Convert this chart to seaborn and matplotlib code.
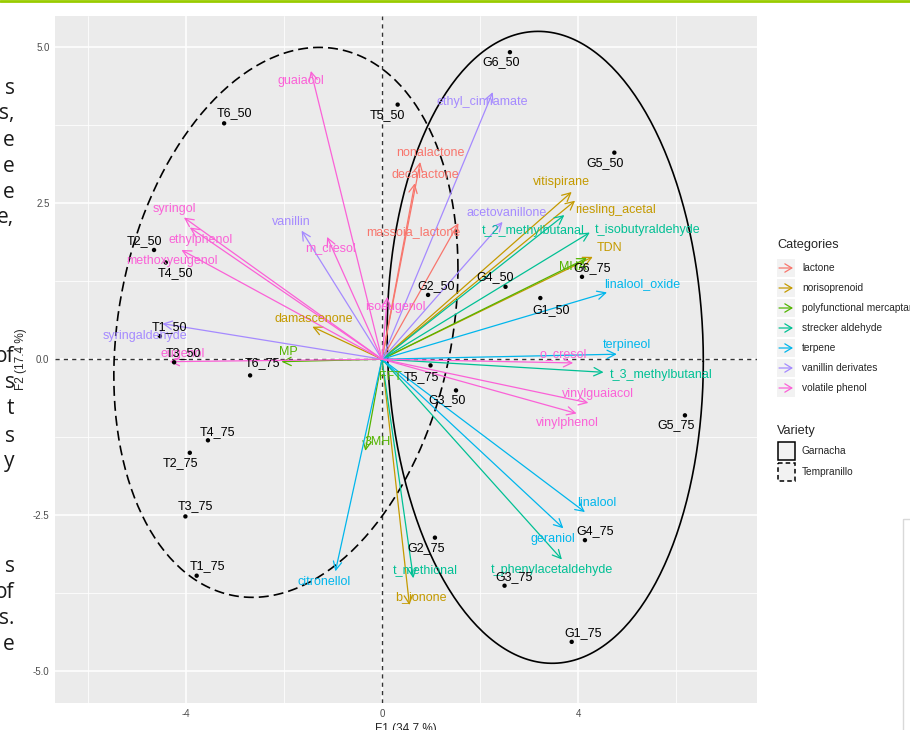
import numpy as np
import matplotlib
matplotlib.use('Agg')
import matplotlib.pyplot as plt
import pandas as pd
import seaborn as sns
from matplotlib.patches import Rectangle

# sample scores on the first two factors
samples = ['G1_50', 'G2_50', 'G3_50', 'G4_50', 'G5_50', 'G6_50',
           'G1_75', 'G2_75', 'G3_75', 'G4_75', 'G5_75', 'G6_75',
           'T1_50', 'T2_50', 'T3_50', 'T4_50', 'T5_50', 'T6_50',
           'T1_75', 'T2_75', 'T3_75', 'T4_75', 'T5_75', 'T6_75']
sample_f1 = [3.23, 0.94, 1.51, 2.52, 4.74, 2.61,
             3.87, 1.08, 2.50, 4.14, 6.18, 4.08,
             -4.53, -4.65, -4.24, -4.41, 0.32, -3.22,
             -3.78, -3.92, -4.01, -3.55, 0.99, -2.69]
sample_f2 = [0.98, 1.03, -0.50, 1.16, 3.31, 4.92,
             -4.53, -2.86, -3.63, -2.90, -0.90, 1.32,
             0.37, 1.75, -0.05, 1.55, 4.08, 3.78,
             -3.47, -1.50, -2.52, -1.30, -0.10, -0.26]
sample_variety = ['Garnacha'] * 12 + ['Tempranillo'] * 12

# compound loadings (arrow tips)
compounds = ['nonalactone', 'decalactone', 'massoia_lactone',
             'vitispirane', 'riesling_acetal', 'TDN', 'damascenone', 'b_ionone',
             'MHA', 'MP', 'FFT', '3MH',
             't_2_methylbutanal', 't_isobutyraldehyde', 't_3_methylbutanal',
             't_phenylacetaldehyde', 't_methional',
             'linalool_oxide', 'terpineol', 'linalool', 'geraniol', 'citronellol',
             'ethyl_cinnamate', 'acetovanillone', 'vanillin', 'syringaldehyde',
             'guaiacol', 'syringol', 'ethylphenol', 'methoxyeugenol', 'm_cresol',
             'isoeugenol', 'eugenol', 'o_cresol', 'vinylguaiacol', 'vinylphenol']
compound_cat = ['lactone'] * 3 + ['norisoprenoid'] * 5 + \
               ['polyfunctional mercaptans'] * 4 + ['strecker aldehyde'] * 5 + \
               ['terpene'] * 5 + ['vanillin derivates'] * 4 + ['volatile phenol'] * 10
compound_f1 = [0.78, 0.67, 1.56,
               3.87, 3.94, 4.30, -1.42, 0.56,
               4.18, -2.05, 0.03, -0.34,
               3.72, 4.24, 4.52, 3.67, 0.64,
               4.59, 4.79, 4.14, 3.70, -0.95,
               2.26, 2.46, -1.64, -4.48,
               -1.45, -4.04, -3.92, -4.09, -1.12,
               0.11, -4.33, 3.90, 4.21, 3.97]
compound_f2 = [3.16, 2.82, 2.18,
               2.68, 2.54, 1.64, 0.52, -3.94,
               1.62, -0.04, -0.07, -1.47,
               2.31, 2.03, -0.21, -3.21, -3.51,
               1.07, 0.08, -2.45, -2.71, -3.40,
               4.28, 2.20, 2.06, 0.57,
               4.62, 2.27, 2.11, 1.75, 1.96,
               1.00, -0.04, -0.06, -0.70, -0.87]

categories = ['lactone', 'norisoprenoid', 'polyfunctional mercaptans',
              'strecker aldehyde', 'terpene', 'vanillin derivates', 'volatile phenol']
varieties = ['Garnacha', 'Tempranillo']

# group ellipses: centre and shape matrix
ellipse_center = {'Garnacha': (3.33, 0.19), 'Tempranillo': (-1.96, 0.59)}
ellipse_shape = {'Garnacha': [[10.40, -0.72], [-0.72, 25.64]],
                 'Tempranillo': [[12.32, 3.01], [3.01, 19.42]]}

# label nudges in pixels (layout only)
compound_label_offset = [(10, 9), (10, 8), (-45, -9),
                         (-10, 10), (40, -9), (17, 9), (1, 8), (11, 8),
                         (-14, -9), (7, 10), (7, -13), (12, 9),
                         (-31, -16), (58, 3), (58, -3), (-10, -11), (12, 8),
                         (35, 8), (10, 9), (12, 9), (-10, -11), (-11, -11),
                         (-11, -10), (4, 9), (-10, 9), (-17, -12),
                         (-10, -10), (-10, 9), (11, -12), (-10, -11), (3, -11),
                         (8, -10), (13, 8), (-10, 9), (10, 9), (-9, -10)]
sample_label_offset = [(11, -12), (8, 9), (-9, -10), (-10, 10), (-9, -10), (-9, -10),
                       (11, 9), (-9, -10), (10, 9), (10, 9), (-9, -10), (10, 9),
                       (10, 9), (-10, 9), (9, 9), (10, -11), (-10, -10), (10, 10),
                       (11, 10), (-9, -10), (10, 10), (10, 8), (-9, -12), (12, 12)]

# left margin text fragments of the page (text, y pixel)
page_text = [('s', 88), ('s,', 114), ('e', 140), ('e', 166), ('e', 192), ('e,', 218),
             ('of', 357), ('s', 383), ('t', 409), ('s', 436), ('y', 462),
             ('s', 567), ('of', 593), ('s.', 619), ('e', 645)]

cat_colors = dict(zip(categories, ['#F8766D', '#C49A00', '#53B400', '#00C094',
                                   '#00B6EB', '#A58AFF', '#FB61D7']))

sns.set_theme(style='darkgrid', rc={
    'axes.facecolor': '#EBEBEB', 'grid.color': 'white',
    'axes.unicode_minus': False,
})
plt.rcParams['font.family'] = ['Liberation Sans', 'DejaVu Sans']

scores = pd.DataFrame({'name': samples, 'F1': sample_f1, 'F2': sample_f2,
                       'variety': sample_variety})
loads = pd.DataFrame({'name': compounds, 'cat': compound_cat,
                      'F1': compound_f1, 'F2': compound_f2})

W, H = 910, 730
fig = plt.figure(figsize=(W / 100, H / 100), dpi=100)
ax = fig.add_axes([55 / W, 1 - 703 / H, (757 - 55) / W, (703 - 16) / H])
ax.set_xlim(-6.67, 7.65)
ax.set_ylim(-5.51, 5.50)

ax.set_xticks([-4, 0, 4])
ax.set_xticks([-6, -2, 2, 6], minor=True)
ax.set_yticks([-5, -2.5, 0, 2.5, 5])
ax.set_yticks([-3.75, -1.25, 1.25, 3.75], minor=True)
ax.set_yticklabels(['-5.0', '-2.5', '0.0', '2.5', '5.0'])
ax.grid(which='major', color='white', lw=1.1)
ax.grid(which='minor', color='white', lw=0.55)
ax.tick_params(which='major', length=2.5, width=0.8, color='#333333',
               labelsize=7, labelcolor='#4D4D4D', pad=1.5)
ax.tick_params(which='minor', length=0)
for sp in ax.spines.values():
    sp.set_visible(False)
ax.set_xlabel('F1 (34.7 %)', fontsize=8.5, labelpad=3)
ax.set_ylabel('F2 (17.4 %)', fontsize=8.5, labelpad=4)

ax.axhline(0, color='#333333', lw=1.0, ls=(0, (3, 3)), zorder=1)
ax.axvline(0, color='#333333', lw=1.0, ls=(0, (3, 3)), zorder=1)

# ellipses
t = np.linspace(0, 2 * np.pi, 300)
for v in varieties:
    L = np.linalg.cholesky(np.array(ellipse_shape[v]))
    pts = L @ np.vstack([np.cos(t), np.sin(t)])
    cx, cy = ellipse_center[v]
    ls = '-' if v == 'Garnacha' else (0, (6, 3))
    ax.plot(cx + pts[0], cy + pts[1], color='black', lw=1.2, ls=ls, zorder=2)

# loading arrows and labels
for (_, r), off in zip(loads.iterrows(), compound_label_offset):
    c = cat_colors[r['cat']]
    ax.annotate('', xy=(r['F1'], r['F2']), xytext=(0, 0),
                arrowprops=dict(arrowstyle='->,head_length=0.6,head_width=0.3',
                                color=c, lw=0.9, shrinkA=0, shrinkB=0,
                                mutation_scale=10), zorder=3)
for (_, r), off in zip(loads.iterrows(), compound_label_offset):
    ax.annotate(r['name'], xy=(r['F1'], r['F2']), xytext=off,
                textcoords='offset pixels', ha='center', va='center',
                color=cat_colors[r['cat']], fontsize=9, zorder=5)

sns.scatterplot(data=scores, x='F1', y='F2', color='black', s=10,
                edgecolor='none', legend=False, ax=ax, zorder=4)
ax.set_xlabel('F1 (34.7 %)', fontsize=8.5, labelpad=3)
ax.set_ylabel('F2 (17.4 %)', fontsize=8.5, labelpad=4)
for (_, r), off in zip(scores.iterrows(), sample_label_offset):
    ax.annotate(r['name'], xy=(r['F1'], r['F2']), xytext=off,
                textcoords='offset pixels', ha='center', va='center',
                color='black', fontsize=9, zorder=6)

# overlay in pixel coordinates for legend and page pieces
ov = fig.add_axes([0, 0, 1, 1])
ov.set_xlim(0, W)
ov.set_ylim(H, 0)
ov.axis('off')

ov.plot([0, W], [1, 1], color='#99CC00', lw=2)
ov.add_patch(Rectangle((903, 519), 20, 240, fill=False, ec='#D9D9D9', lw=1))
for txt, y in page_text:
    ov.text(14.5, y, txt, ha='right', va='center', fontsize=15,
            family=['Open Sans', 'DejaVu Sans'], color='#1A1A1A')

ov.text(777, 245, 'Categories', fontsize=9.2, va='center', ha='left')
for i, cat in enumerate(categories):
    y = 268 + 20 * i
    ov.add_patch(Rectangle((777, y - 9), 18, 18, fc='#F2F2F2', ec='none'))
    ov.annotate('', xy=(793, y), xytext=(779, y),
                arrowprops=dict(arrowstyle='->,head_length=0.5,head_width=0.3',
                                color=cat_colors[cat], lw=0.9, shrinkA=0, shrinkB=0,
                                mutation_scale=10))
    ov.text(802, y, cat, fontsize=7.3, va='center', ha='left')

ov.text(777, 431, 'Variety', fontsize=9.2, va='center', ha='left')
for i, v in enumerate(varieties):
    y = 451 + 21 * i
    ls = '-' if v == 'Garnacha' else (0, (3, 2))
    ov.add_patch(Rectangle((778, y - 9), 17, 18, fc='#F2F2F2', ec='black',
                           lw=1.1, ls=ls))
    ov.text(802, y, v, fontsize=7.3, va='center', ha='left')

fig.savefig('out.png', dpi=100)
